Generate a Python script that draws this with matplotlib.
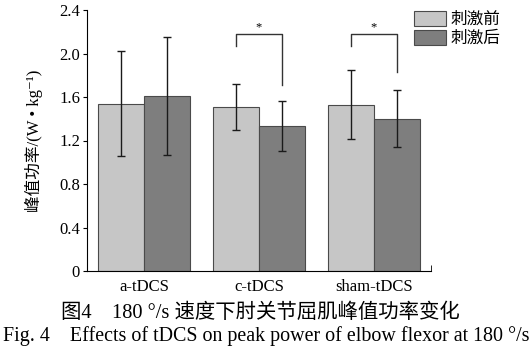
import matplotlib
matplotlib.use("Agg")
import matplotlib.pyplot as plt
import numpy as np

# 数据
groups = ["a-tDCS", "c-tDCS", "sham-tDCS"]
labels = ["刺激前", "刺激后"]
pre_mean = [1.54, 1.51, 1.53]
pre_sd = [0.48, 0.21, 0.32]
post_mean = [1.61, 1.33, 1.40]
post_sd = [0.54, 0.23, 0.26]
y_ticks = [0, 0.4, 0.8, 1.2, 1.6, 2.0, 2.4]
y_tick_labels = ["0", "0.4", "0.8", "1.2", "1.6", "2.0", "2.4"]
# 显著性标记：组序号，横线高度，左腿底，右腿底
sig_groups = [1, 2]
sig_top = [2.18, 2.175]
sig_left_end = [2.07, 2.07]
sig_right_end = [1.71, 1.83]

FONT = ["Liberation Serif", "Noto Sans CJK SC", "DejaVu Sans"]
plt.rcParams["font.family"] = FONT

LIGHT = "#c6c6c6"
DARK = "#7e7e7e"
EDGE = "#4a4a4a"


def main():
    fig = plt.figure(figsize=(5.32, 3.59), dpi=100)
    ax = fig.add_axes([87 / 532, 1 - 271 / 359, 344 / 532, 261 / 359])

    x = np.arange(len(groups))
    w = 0.4
    err_kw = dict(ecolor="#1a1a1a", elinewidth=1.0, capsize=3, capthick=1.0)
    ax.bar(x - w / 2, pre_mean, w, yerr=pre_sd, color=LIGHT, edgecolor=EDGE,
           linewidth=0.8, label=labels[0], error_kw=err_kw)
    ax.bar(x + w / 2, post_mean, w, yerr=post_sd, color=DARK, edgecolor=EDGE,
           linewidth=0.8, label=labels[1], error_kw=err_kw)

    # 显著性括号
    for g, top, le, re in zip(sig_groups, sig_top, sig_left_end, sig_right_end):
        xl, xr = g - w / 2, g + w / 2
        ax.plot([xl, xl, xr, xr], [le, top, top, re], color="#333333", lw=1.0)
        ax.text(g, top + 0.01, "*", ha="center", va="bottom", fontsize=9)

    ax.set_xlim(-0.5, 2.5)
    ax.set_ylim(0, 2.4)
    ax.set_yticks(y_ticks)
    ax.set_yticklabels(y_tick_labels)
    ax.set_xticks(x)
    ax.set_xticklabels(groups)
    ax.set_xticks([2.5], minor=True)
    ax.tick_params(axis="x", which="major", length=0, labelsize=12, pad=6)
    ax.tick_params(axis="x", which="minor", direction="in", length=4)
    ax.tick_params(axis="y", direction="out", length=3, labelsize=12, pad=2)
    ax.spines["top"].set_visible(False)
    ax.spines["right"].set_visible(False)
    ax.set_ylabel("峰值功率/(W • kg⁻¹)", fontsize=12)
    ax.yaxis.set_label_coords(-0.128, 0.5)

    ax.legend(loc="upper left", bbox_to_anchor=(414 / 532, 1 - 11 / 359),
              bbox_transform=fig.transFigure, frameon=False, fontsize=12,
              handlelength=1.9, handleheight=1.0, handletextpad=0.3,
              labelspacing=0.1, borderpad=0, borderaxespad=0)

    fig.text(0.49, 1 - 313 / 359, "图4　180 °/s 速度下肘关节屈肌峰值功率变化",
             ha="center", va="center", fontsize=14.7)
    fig.text(0.5, 1 - 336 / 359,
             "Fig. 4    Effects of tDCS on peak power of elbow flexor at 180 °/s",
             ha="center", va="center", fontsize=14.4)

    fig.savefig("out.png", dpi=100)


if __name__ == "__main__":
    main()
